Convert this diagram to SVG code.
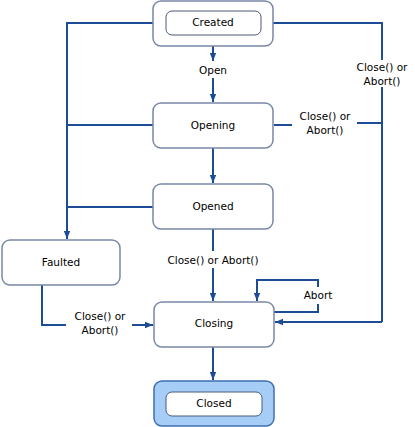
<svg xmlns="http://www.w3.org/2000/svg" width="415" height="427" viewBox="0 0 415 427">
<defs>
<marker id="ah" viewBox="0 0 10 10" refX="10" refY="5" markerWidth="10" markerHeight="8" markerUnits="userSpaceOnUse" orient="auto">
<path d="M0,1 L10,5 L0,9 Z" fill="#1c4c96"/>
</marker>
<style>
.box{fill:#fff;stroke:#7a88a8;stroke-width:1.5}
.inner{fill:#fff;stroke:#4a5a7a;stroke-width:1}
.cl{fill:#a6cdf5;stroke:#3d6fb3;stroke-width:1.5}
.ln{fill:none;stroke:#1c4c96;stroke-width:2}
.ar{marker-end:url(#ah)}
text{font-family:"DejaVu Sans",Verdana,sans-serif;font-size:10.5px;fill:#000;text-anchor:middle}
</style>
</defs>
<g id="connectors">
<path class="ln ar" d="M213,46 V61"/>
<path class="ln ar" d="M213,78 V102"/>
<text x="213" y="74">Open</text>
<path class="ln" d="M153,23 H67 V125 H153 M67,207 H153"/>
<path class="ln ar" d="M67,125 V239"/>
<path class="ln ar" d="M213,148 V183"/>
<path class="ln" d="M213,229 V251"/>
<path class="ln ar" d="M213,268 V301"/>
<text x="213" y="264">Close() or Abort()</text>
<path class="ln" d="M273,23 H382 V60 M382,87 V322"/>
<path class="ln ar" d="M382,322 H275"/>
<text x="382" y="71">Close() or</text>
<text x="382" y="85">Abort()</text>
<path class="ln" d="M274,125 H292 M357,123 H382"/>
<text x="325" y="120">Close() or</text>
<text x="325" y="134">Abort()</text>
<path class="ln" d="M274,312 H318 V304 M318,287 V280 H257"/>
<path class="ln ar" d="M257,279 V301"/>
<text x="318" y="299">Abort</text>
<path class="ln" d="M42,285 V325 H66"/>
<path class="ln ar" d="M132,325 H153"/>
<text x="100" y="320">Close() or</text>
<text x="100" y="334">Abort()</text>
<path class="ln ar" d="M213,347 V380"/>
</g>
<g id="created">
<rect class="box" x="153" y="1" width="120" height="45" rx="8"/>
<rect class="inner" x="166" y="11" width="95" height="24" rx="6"/>
<text x="213" y="26">Created</text>
</g>
<g id="opening">
<rect class="box" x="153" y="103" width="120" height="45" rx="8"/>
<text x="213" y="129">Opening</text>
</g>
<g id="opened">
<rect class="box" x="153" y="184" width="120" height="45" rx="8"/>
<text x="213" y="210">Opened</text>
</g>
<g id="faulted">
<rect class="box" x="2" y="240" width="118" height="45" rx="8"/>
<text x="61" y="266">Faulted</text>
</g>
<g id="closing">
<rect class="box" x="154" y="302" width="120" height="45" rx="8"/>
<text x="214" y="327">Closing</text>
</g>
<g id="closed">
<rect class="cl" x="154" y="381" width="120" height="45" rx="8"/>
<rect class="inner" x="166" y="392" width="96" height="24" rx="6"/>
<text x="214" y="407">Closed</text>
</g>
</svg>
